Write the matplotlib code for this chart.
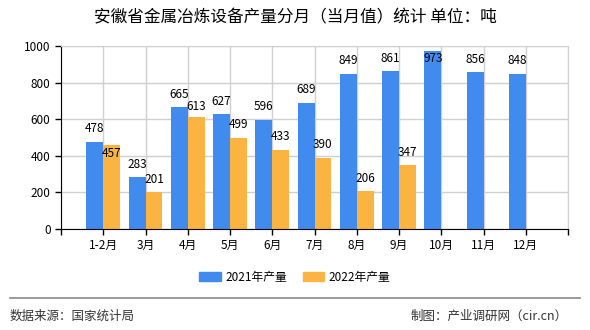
import matplotlib
matplotlib.use("Agg")
import matplotlib.pyplot as plt
import numpy as np

plt.rcParams['font.family'] = ['Noto Sans CJK SC', 'DejaVu Sans']

categories = ["1-2月", "3月", "4月", "5月", "6月", "7月", "8月", "9月", "10月", "11月", "12月"]
prod_2021 = [478, 283, 665, 627, 596, 689, 849, 861, 973, 856, 848]
prod_2022 = [457, 201, 613, 499, 433, 390, 206, 347]
series_names = ["2021年产量", "2022年产量"]
title = "安徽省金属冶炼设备产量分月（当月值）统计 单位：吨"
yticks = [0, 200, 400, 600, 800, 1000]

c21 = "#418BEE"
c22 = "#FBB441"

fig = plt.figure(figsize=(5.9, 3.3), dpi=100)
ax = fig.add_axes([61/590, 1 - 229/330, (568-61)/590, (229-46)/330])

x = np.arange(len(categories))
w = 0.4
ax.bar(x - w/2, prod_2021, width=w, color=c21, label=series_names[0], zorder=3)
x2 = np.arange(len(prod_2022))
ax.bar(x2 + w/2, prod_2022, width=w, color=c22, label=series_names[1], zorder=3)

off = 71
ymax_label = 929
y21 = []
for xi, v in zip(x, prod_2021):
    yl = min(v + off, ymax_label)
    y21.append(yl)
    ax.text(xi - w/2, yl, str(v), ha='center', va='center', fontsize=8.5, zorder=5)
for i, (xi, v) in enumerate(zip(x2, prod_2022)):
    yl = min(v + off, ymax_label)
    if abs(yl - y21[i]) < 30:   # avoid collision with neighbouring label
        yl = v - 47
    elif abs(yl - y21[i]) < 70:
        yl = y21[i] - 65
    ax.text(xi + w/2, yl, str(v), ha='center', va='center', fontsize=8.5, zorder=5)

ax.set_xlim(-1, len(categories))
ax.set_ylim(0, 1000)
ax.set_yticks(yticks)
ax.set_yticklabels([str(t) for t in yticks], fontsize=8.5)
ax.set_xticks(np.arange(-1, len(categories) + 1))
ax.set_xticklabels([""] + categories + [""], fontsize=8.5)
ax.tick_params(axis='both', length=4, color='black', width=1)
ax.grid(True, color='#D0D0D0', linewidth=1, zorder=0)
for s in ['top', 'right']:
    ax.spines[s].set_color('#D0D0D0')
ax.spines['left'].set_color('black')
ax.spines['bottom'].set_color('black')
ax.spines['bottom'].set_zorder(4)

fig.text(0.5, 1 - 18/330, title, ha='center', va='center', fontsize=12)

handles = [plt.Rectangle((0, 0), 1, 1, color=c21), plt.Rectangle((0, 0), 1, 1, color=c22)]
fig.legend(handles, series_names, loc='center', bbox_to_anchor=(0.5, 1 - 277/330),
           ncol=2, frameon=False, fontsize=8.5, handlelength=1.8, handleheight=0.75,
           columnspacing=1.35, handletextpad=0.4)

fig.add_artist(plt.Line2D([10/590, 580/590], [1 - 298/330, 1 - 298/330], color='#888888', linewidth=1.2))
fig.text(10/590, 1 - 316/330, "数据来源：国家统计局", ha='left', va='center', fontsize=9, color='#333333')
fig.text(568/590, 1 - 316/330, "制图：产业调研网（cir.cn）", ha='right', va='center', fontsize=9, color='#333333')

fig.savefig("out.png", dpi=100)
